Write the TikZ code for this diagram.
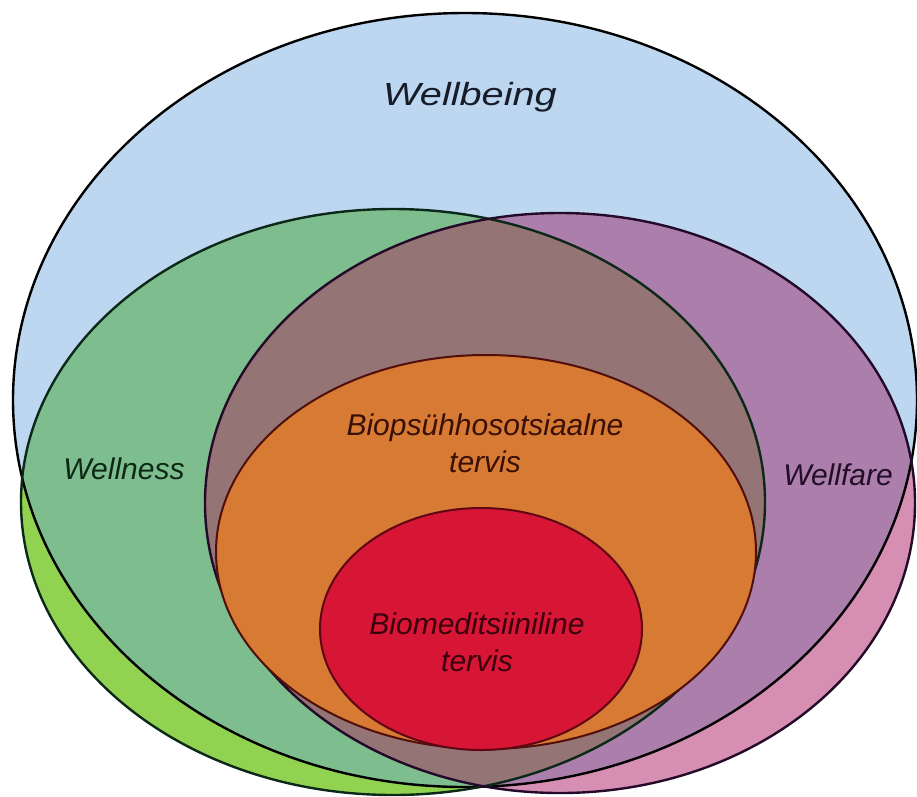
\documentclass[tikz,border=0pt]{standalone}
\usepackage{fontspec}
\setmainfont{Liberation Sans}
\definecolor{bluefill}{RGB}{190,215,240}
\definecolor{limefill}{RGB}{145,210,80}
\definecolor{sagefill}{RGB}{126,189,142}
\definecolor{pinkfill}{RGB}{214,142,178}
\definecolor{mauvefill}{RGB}{171,126,171}
\definecolor{grayfill}{RGB}{149,116,117}
\definecolor{orangefill}{RGB}{214,122,52}
\definecolor{redfill}{RGB}{214,22,52}
\definecolor{greenline}{RGB}{12,40,24}
\definecolor{purpleline}{RGB}{35,10,40}
\definecolor{orangeline}{RGB}{80,15,10}
\definecolor{redline}{RGB}{95,5,20}
\definecolor{txtblue}{RGB}{22,28,40}
\definecolor{txtgreen}{RGB}{14,40,22}
\definecolor{txtpurple}{RGB}{35,14,40}
\definecolor{txtorange}{RGB}{58,16,6}
\definecolor{txtred}{RGB}{58,0,14}
\def\blueE{(465,400) ellipse [x radius=452, y radius=387]}
\def\greenE{(393,502) ellipse [x radius=372, y radius=293]}
\def\purpleE{(560,503) ellipse [x radius=355, y radius=290]}
\def\orangeE{(486,552) ellipse [x radius=270, y radius=197]}
\def\redE{(481,629) ellipse [x radius=161, y radius=121]}
\tikzset{
  lbl/.style={inner sep=0pt, font=\itshape\fontsize{30}{37}\selectfont, align=center},
  outline/.style={line width=2.4pt},
}
\begin{document}
\begin{tikzpicture}[x=1pt,y=-1pt]
\useasboundingbox (0,0) rectangle (917,796);
\fill[white] (0,0) rectangle (917,796);
% parts outside the big ellipse
\fill[limefill] \greenE;
\fill[pinkfill] \purpleE;
% big ellipse
\fill[bluefill] \blueE;
\begin{scope}
  \clip \blueE;
  \fill[sagefill] \greenE;
  \fill[mauvefill] \purpleE;
\end{scope}
\begin{scope}
  \clip \greenE;
  \fill[grayfill] \purpleE;
\end{scope}
% outlines
\draw[outline, black] \blueE;
\draw[outline, greenline] \greenE;
\draw[outline, purpleline] \purpleE;
% inner ellipses
\filldraw[fill=orangefill, draw=orangeline, line width=2pt] \orangeE;
\filldraw[fill=redfill, draw=redline, line width=2pt] \redE;
% labels
\node[anchor=base, inner sep=0pt, text=txtblue, font=\itshape\fontsize{32}{38}\selectfont] (wellbeing) at (470,105) {\scalebox{1.24}[1]{Wellbeing}};
\node[lbl, anchor=base, text=txtgreen] (wellness) at (124,479) {Wellness};
\node[lbl, anchor=base, text=txtpurple] (wellfare) at (838,485) {Wellfare};
\node[lbl, text=txtorange] (biopsy) at (485,443.5) {Biopsühhosotsiaalne\\tervis};
\node[lbl, text=txtred] (biomed) at (477,642.5) {Biomeditsiiniline\\tervis};
\end{tikzpicture}
\end{document}
